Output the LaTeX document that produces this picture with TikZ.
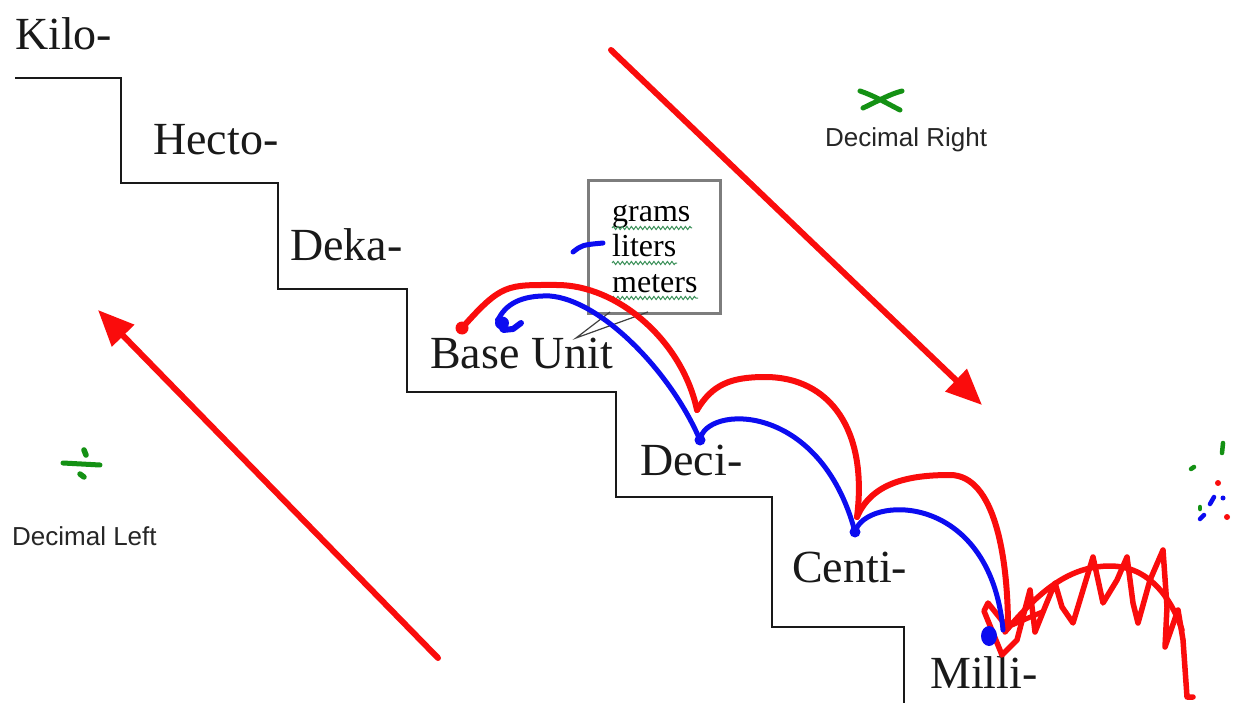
\documentclass[tikz,border=0pt]{standalone}
\usepackage{fontspec}
\setmainfont{Liberation Serif}
\newfontfamily\labelsans{Liberation Sans}
\usetikzlibrary{arrows.meta,decorations.pathmorphing}

\definecolor{inkred}{RGB}{250,12,12}
\definecolor{inkblue}{RGB}{12,12,240}
\definecolor{inkgreen}{RGB}{20,145,20}
\definecolor{boxgray}{RGB}{125,125,125}
\definecolor{squiggle}{RGB}{60,145,90}

\begin{document}
\begin{tikzpicture}[x=1pt,y=-1pt,
  prefixlabel/.style={font=\fontsize{46}{50}\selectfont, inner sep=0pt, anchor=base west, text=black!90},
  captiontext/.style={font=\labelsans\fontsize{26}{30}\selectfont, inner sep=0pt, anchor=base west, text=black!85},
  unitword/.style={font=\fontsize{32}{34}\selectfont, inner sep=0pt, anchor=base west, text=black},
  stairline/.style={line width=2pt, black!90},
  redink/.style={inkred, line width=6pt, line cap=round, line join=round},
  blueink/.style={inkblue, line width=5pt, line cap=round, line join=round},
  greenink/.style={inkgreen, line width=5pt, line cap=round},
  bigarrow/.style={inkred, line width=6pt, line cap=round, -{Triangle[length=36pt,width=30pt]}},
  spellmark/.style={squiggle, line width=1pt, decorate, decoration={snake, amplitude=1.6pt, segment length=4.5pt}},
  pointerline/.style={black!75, line width=1.2pt},
]
\useasboundingbox (0,0) rectangle (1233,703);
\fill[white] (0,0) rectangle (1233,703);

% the staircase of metric prefixes
\draw[stairline] (15,78) -| (121,183) -| (278,289) -| (407,392) -| (616,497) -| (772,627) -| (904,703);

\node[prefixlabel] (kilo)  at (15,50)   {Kilo-};
\node[prefixlabel] (hecto) at (153,155) {Hecto-};
\node[prefixlabel] (deka)  at (290,261) {Deka-};
\node[prefixlabel] (base)  at (430,368) {Base Unit};
\node[prefixlabel] (deci)  at (640,475) {Deci-};
\node[prefixlabel] (centi) at (792,582) {Centi-};
\node[prefixlabel] (milli) at (930,688) {Milli-};

% box listing the base units, with its pointer
\draw[boxgray, line width=3pt] (588,181) rectangle (720,313);
\node[unitword] (grams)  at (612,222) {grams};
\node[unitword] (liters) at (612,257) {liters};
\node[unitword] (meters) at (612,292) {meters};
\draw[spellmark] (612,228) -- (692,228);
\draw[spellmark] (612,263) -- (677,263);
\draw[spellmark] (612,298) -- (698,298);
\coordinate (pointer) at (576,338);
\draw[pointerline] (610,312) -- (pointer) -- (648,312);

% direction arrows
\coordinate (leftTail)  at (438,658);
\coordinate (leftTip)   at (98,310);
\coordinate (rightTail) at (611,50);
\coordinate (rightTip)  at (982,405);
\draw[bigarrow] (leftTail) -- (leftTip);
\draw[bigarrow] (rightTail) -- (rightTip);

% divide / multiply marks
\draw[greenink] (63,463) -- (100,465);
\draw[greenink, line width=5.5pt] (84,450) -- (86,455);
\draw[greenink, line width=5.5pt] (80,474) -- (84,477);
\node[captiontext] (decleft) at (12,545) {Decimal Left};

\draw[greenink] (860,91) .. controls (875,96) and (888,104) .. (900,110);
\draw[greenink] (863,108) .. controls (878,101) and (890,94) .. (902,91);
\node[captiontext] (decright) at (825,147) {Decimal Right};

% jump points
\coordinate (rBase)  at (462,328);
\coordinate (rDeci)  at (697,410);
\coordinate (rCenti) at (857,517);
\coordinate (rMilli) at (1008,628);
\coordinate (bDeci)  at (700,440);
\coordinate (bCenti) at (855,532);
\coordinate (bMilli) at (1003,630);
\coordinate (bBase)  at (498,320);

% red jumps
\fill[inkred] (rBase) circle (6.5pt);
\draw[redink] (rBase) .. controls +(40,-45) and +(-50,0) .. (557,285)
  .. controls +(60,0) and +(-15,-70) .. (rDeci);
\draw[redink] (rDeci) .. controls +(15,-25) and +(-35,0) .. (765,377)
  .. controls +(65,0) and +(11,-87) .. (rCenti);
\draw[redink] (rCenti) .. controls +(15,-35) and +(-40,0) .. (950,475)
  .. controls +(45,0) and +(0,-70) .. (rMilli);
\draw[redink, line width=5.5pt] (rMilli) -- (988,603) -- (984,611) -- (1002,655) -- (1017,640)
  -- (1030,590) -- (1035,632) -- (1045,607) -- (1055,583) -- (1062,607) -- (1073,623)
  -- (1083,590) -- (1093,557) -- (1103,603) -- (1117,580) -- (1127,557) -- (1133,603)
  -- (1138,623) -- (1150,580) -- (1163,550) -- (1167,607) -- (1165,647) -- (1178,610)
  -- (1183,640) -- (1187,697) -- (1193,697);
\draw[redink, line width=5.5pt] (1005,632) .. controls (1040,590) and (1070,566) .. (1110,566)
  .. controls (1150,566) and (1172,600) .. (1182,630);
\draw[redink, line width=5pt] (1012,625) -- (1042,612);

% blue jumps
\draw[blueink] (bDeci) .. controls (670,370) and (600,300) .. (550,296)
  .. controls (520,295) and (505,305) .. (bBase);
\draw[blueink, line width=6pt] (bBase) -- (503,330) -- (513,329) -- (521,323);
\fill[inkblue] (502,323) ellipse (7pt and 6.5pt);
\draw[blueink] (bDeci) .. controls (705,405) and (820,400) .. (bCenti);
\draw[blueink] (bCenti) .. controls (865,495) and (990,490) .. (bMilli);
\fill[inkblue] (bDeci) circle (5.5pt);
\fill[inkblue] (bCenti) circle (5.5pt);
\fill[inkblue] (989,636) ellipse (8pt and 10pt);
\draw[blueink] (573,252) .. controls (582,245) .. (603,243);

% stray pen marks at the right edge
\draw[greenink, line width=4.5pt] (1223,443) -- (1222,453);
\draw[greenink, line width=4.5pt] (1191,469) -- (1194,467);
\fill[inkred] (1218,483) circle (3pt);
\draw[blueink, line width=4.5pt] (1210,504) -- (1214,497);
\fill[inkblue] (1223,498) circle (2.5pt);
\draw[greenink, line width=4.5pt] (1200,507) -- (1200,509);
\draw[blueink, line width=4.5pt] (1200,519) -- (1204,515);
\fill[inkred] (1227,517) circle (3pt);
\end{tikzpicture}
\end{document}
